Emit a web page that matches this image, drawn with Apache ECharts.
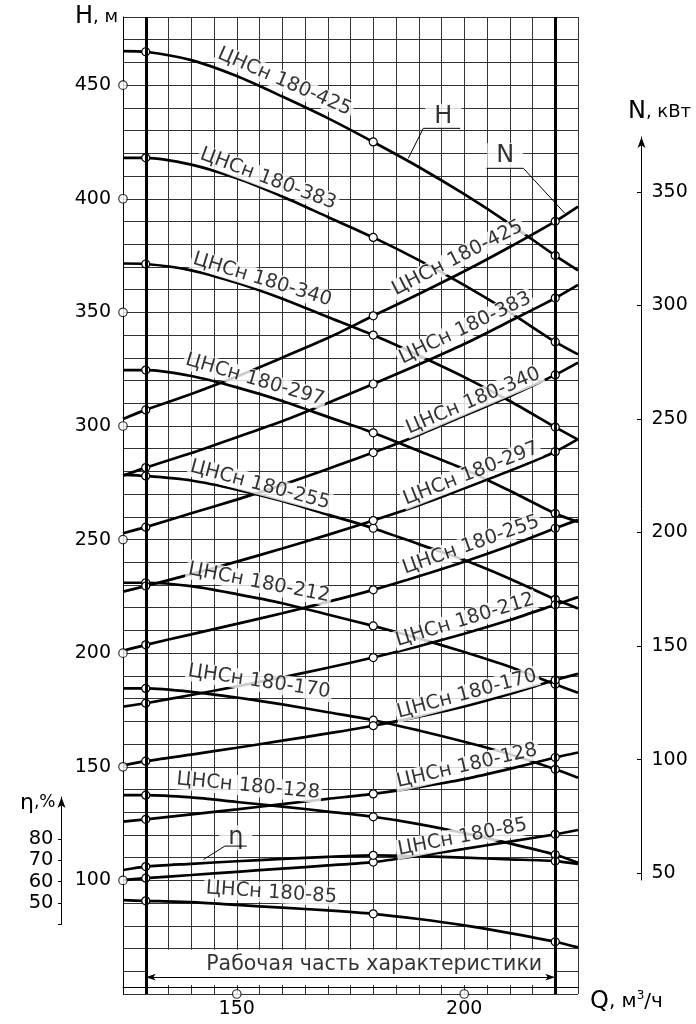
<!DOCTYPE html>
<html>
<head>
<meta charset="utf-8">
<script src="https://cdn.jsdelivr.net/npm/echarts@6/dist/echarts.min.js"></script>
<style>html,body{margin:0;padding:0;background:#fff}#c{width:696px;height:1024px}</style>
</head>
<body>
<div id="c"></div>
<script>
// ---------- data ----------
const Q = [125, 130, 140, 150, 160, 170, 180, 190, 200, 210, 220, 225];
const MARKED_Q = [130, 180, 220];
const WORK_RANGE = [130, 220];
const PUMPS = ['180-425', '180-383', '180-340', '180-297', '180-255', '180-212', '180-170', '180-128', '180-85'];

// Head H, m
const H_425 = [465, 464.7, 461, 454, 445, 435.5, 425, 414, 402, 389, 375, 368.5];
const H_383 = [418, 418, 415, 409, 401, 392, 383, 373, 362, 350, 337, 331.5];
const H_340 = [371.5, 371.3, 368.5, 363, 356, 348, 340, 331, 321.5, 311, 299.5, 294];
const H_297 = [324.6, 324.6, 322, 317, 311, 304, 297, 289, 281, 271.5, 261.5, 257.8];
const H_255 = [278.5, 278, 276, 272, 267, 261, 255, 248, 241, 232.8, 223.7, 219.7];
const H_212 = [231, 231, 229.5, 226, 222, 217, 212, 206.5, 200.5, 194, 186.3, 182.6];
const H_170 = [184.5, 184.5, 183, 180.5, 177.5, 174, 170.5, 166, 161, 155.5, 148.9, 145.2];
const H_128 = [137.5, 137.5, 136.5, 134.5, 132.5, 130.3, 128, 124.8, 120.8, 116.3, 111.3, 107.8];
const H_85  = [91.3, 91, 90.4, 89.2, 88, 86.8, 85.3, 83, 80.2, 76.8, 73, 70.5];

// Power N, kW
const N_425 = [250, 254, 261, 268.7, 277, 285.6, 295.4, 305, 315, 325.7, 337, 343.5];
const N_383 = [225, 228.6, 235, 242, 249, 257, 265.4, 274, 283, 293, 303.2, 309];
const N_340 = [199.7, 202.4, 208.5, 214.5, 221, 228, 235.2, 243, 251.5, 260, 269.4, 274.8];
const N_297 = [174, 176.5, 181.7, 187.2, 193, 199, 205.3, 212, 219.5, 227.2, 235.6, 241.1];
const N_255 = [148, 150.6, 155.2, 159.8, 164.5, 169.5, 174.8, 180.8, 187.2, 194.2, 201.9, 205.6];
const N_212 = [123.4, 124.9, 128.5, 132.3, 136.3, 140.5, 145, 150, 155.5, 161.5, 168.2, 171.6];
const N_170 = [97.5, 99.4, 102.3, 105.3, 108.4, 111.6, 115, 119, 123.5, 129, 135.1, 137.8];
const N_128 = [72.8, 73.8, 76, 78.2, 80.5, 82.8, 85, 88, 91.5, 96, 101, 103.2];
const N_85  = [47, 47.9, 49.3, 50.7, 52.1, 53.5, 55, 57.8, 60.8, 64, 67.2, 69.1];

// Efficiency, %
const ETA = [65.6, 67.2, 68.5, 69.7, 70.8, 71.8, 72.5, 72.1, 71.4, 70.6, 69.8, 68.5];

// tick labels
const Q_TICK_LABELS = [150, 200];
const H_TICK_LABELS = [100, 150, 200, 250, 300, 350, 400, 450];
const N_TICK_LABELS = [50, 100, 150, 200, 250, 300, 350];
const ETA_TICKS = [40, 50, 60, 70, 80];
const ETA_TICK_LABELS = [50, 60, 70, 80];

// label anchors (Q, value, rotation)
const H_LABEL_POS = [[160.5, 451.5, -23.5], [156.9, 408.7, -20.5], [155.6, 364.4, -17], [154, 320.3, -16.5],
  [155.1, 274, -15], [154.9, 231, -11], [154.9, 187.5, -8.5], [152.5, 141.5, -5.5], [157.6, 94.6, -4]];
const N_LABEL_POS = [[198.5, 320.8, 27], [200.2, 289.9, 25.5], [202, 257.9, 23], [201.5, 225.9, 21.5],
  [201.5, 194.5, 19.5], [200.2, 161.5, 17], [200.6, 128.9, 15], [200.6, 97.3, 13], [199.6, 65.9, 11]];

// callouts (in Q / H units)
const H_LEADER = [[187.7, 417.8], [191.0, 431.0], [199.1, 431.0]];
const N_LEADER = [[204.9, 413.4], [213.0, 413.4], [222.1, 393.6]];
const ETA_LEADER = [[142.7, 109.2], [147.4, 115.1], [152.2, 115.1]];
const CALLOUTS = [['H', 195.4, 436.3], ['N', 209.0, 419.0], ['η', 149.8, 118.8]];
const WORK_TEXT = ['Рабочая часть характеристики', 180.2, 62.7];
const WORK_BOX = [54, 69.5];
const WORK_ARROW_H = 57.4;

// axis ranges
const Q_MIN = 125, Q_MAX = 225;
const H_MIN = 50, H_MAX = 480;
const N_MAIN = [-3.08, 426.92];
const ETA_MAIN = [7.48, 465.45];
const N_AXIS = [47.05, 374.1];
const ETA_AXIS = [40, 99.67];

const H_SETS = [H_425, H_383, H_340, H_297, H_255, H_212, H_170, H_128, H_85];
const N_SETS = [N_425, N_383, N_340, N_297, N_255, N_212, N_170, N_128, N_85];

// ---------- chart ----------
const FONT = 'DejaVu Sans';
const GRID_COLOR = '#333';
const chart = echarts.init(document.getElementById('c'), null, {renderer: 'canvas', width: 696, height: 1024});

function curve(vals, yIdx) {
  return {
    type: 'line', xAxisIndex: 0, yAxisIndex: yIdx, z: 3, silent: true,
    smooth: 0.25,
    data: Q.map((q, i) => ({value: [q, vals[i]], symbol: MARKED_Q.includes(q) ? 'circle' : 'none'})),
    showSymbol: true, showAllSymbol: true, symbolSize: 8,
    lineStyle: {color: '#000', width: 2.7},
    itemStyle: {color: '#fff', borderColor: '#000', borderWidth: 1.2}
  };
}
function leader(pts) {
  return {type: 'line', xAxisIndex: 0, yAxisIndex: 0, z: 7, silent: true, showSymbol: false,
    data: pts, lineStyle: {color: '#000', width: 1}};
}
const labelBase = {show: true, position: 'inside', formatter: '{b}', color: '#000', fontFamily: FONT,
  fontSize: 19.5, backgroundColor: '#fff', padding: [0, 2], textBorderWidth: 0, textBorderColor: 'transparent'};

const series = [];
// white box behind the working range text + arrow line
series.push({
  type: 'line', xAxisIndex: 0, yAxisIndex: 0, z: 1, silent: true, data: [],
  markArea: {silent: true, itemStyle: {color: '#fff', opacity: 1},
    data: [[{coord: [WORK_RANGE[0], WORK_BOX[0]]}, {coord: [WORK_RANGE[1], WORK_BOX[1]]}]]},
  markLine: {silent: true, symbol: ['arrow', 'arrow'], symbolSize: [5, 10], label: {show: false},
    lineStyle: {color: '#000', width: 1, type: 'solid'},
    data: [[{coord: [WORK_RANGE[0], WORK_ARROW_H]}, {coord: [WORK_RANGE[1], WORK_ARROW_H]}]]}
});
// thick vertical boundary lines
series.push({
  type: 'line', xAxisIndex: 0, yAxisIndex: 0, z: 2, silent: true, data: [],
  markLine: {silent: true, symbol: ['none', 'none'], label: {show: false},
    lineStyle: {color: '#000', width: 3, type: 'solid'},
    data: WORK_RANGE.map(q => ({xAxis: q}))}
});
H_SETS.forEach(v => series.push(curve(v, 0)));
N_SETS.forEach(v => series.push(curve(v, 1)));
series.push(curve(ETA, 2));
// curve labels
series.push({
  type: 'scatter', xAxisIndex: 0, yAxisIndex: 0, z: 6, silent: true, symbolSize: 0,
  data: H_LABEL_POS.map((p, i) => ({name: 'ЦНСн ' + PUMPS[i], value: [p[0], p[1]], label: {rotate: p[2]}})),
  label: labelBase
});
series.push({
  type: 'scatter', xAxisIndex: 0, yAxisIndex: 1, z: 6, silent: true, symbolSize: 0,
  data: N_LABEL_POS.map((p, i) => ({name: 'ЦНСн ' + PUMPS[i], value: [p[0], p[1]], label: {rotate: p[2]}})),
  label: labelBase
});
// callout letters
series.push({
  type: 'scatter', xAxisIndex: 0, yAxisIndex: 0, z: 6, silent: true, symbolSize: 0,
  data: CALLOUTS.map(c => ({name: c[0], value: [c[1], c[2]]})),
  label: {show: true, position: 'inside', formatter: '{b}', color: '#000', fontFamily: FONT, fontSize: 24,
    backgroundColor: '#fff', padding: [1, 9, 0, 9], textBorderWidth: 0, textBorderColor: 'transparent'}
});
// working range text
series.push({
  type: 'scatter', xAxisIndex: 0, yAxisIndex: 0, z: 6, silent: true, symbolSize: 0,
  data: [{name: WORK_TEXT[0], value: [WORK_TEXT[1], WORK_TEXT[2]]}],
  label: {show: true, position: 'inside', formatter: '{b}', color: '#000', fontFamily: FONT, fontSize: 20.5,
    textBorderWidth: 0, textBorderColor: 'transparent'}
});
series.push(leader(H_LEADER));
series.push(leader(N_LEADER));
series.push(leader(ETA_LEADER));
// circles marking the tick positions on the H and Q axes
series.push({
  type: 'scatter', xAxisIndex: 0, yAxisIndex: 0, z: 8, silent: true, clip: false, symbolSize: 8.5,
  data: H_TICK_LABELS.map(h => [Q_MIN, h]).concat(Q_TICK_LABELS.map(q => [q, H_MIN])),
  itemStyle: {color: '#fff', borderColor: '#000', borderWidth: 1.2}
});

const richNames = {
  b: {fontSize: 24, color: '#000', fontFamily: FONT},
  s: {fontSize: 18, color: '#000', fontFamily: FONT},
  q: {fontSize: 20, color: '#000', fontFamily: FONT},
  u: {fontSize: 12, color: '#000', fontFamily: FONT, verticalAlign: 'top', padding: [0, 0, 11, 0]}
};

const option = {
  animation: false,
  backgroundColor: '#fff',
  textStyle: {fontFamily: FONT},
  grid: [
    {left: 123, top: 17, width: 455, height: 977},
    {left: 641.5, top: 137, width: 1, height: 743},
    {left: 61.5, top: 797, width: 1, height: 127.3}
  ],
  xAxis: [
    {type: 'value', gridIndex: 0, min: Q_MIN, max: Q_MAX, interval: 5,
      axisLine: {show: true, lineStyle: {color: '#000', width: 1}}, axisTick: {show: false},
      axisLabel: {margin: 6, fontSize: 19, color: '#000', fontFamily: FONT,
        formatter: v => Q_TICK_LABELS.includes(v) ? String(v) : ''},
      splitLine: {show: true, lineStyle: {color: GRID_COLOR, width: 1}},
      name: '{b|Q}{q|, м}{u|3}{q|/ч}', nameLocation: 'end', nameGap: 12,
      nameTextStyle: {align: 'left', verticalAlign: 'top', padding: [3, 0, 0, 0], rich: richNames}},
    {type: 'value', gridIndex: 1, show: false},
    {type: 'value', gridIndex: 2, show: false}
  ],
  yAxis: [
    {type: 'value', gridIndex: 0, min: H_MIN, max: H_MAX, interval: 10, position: 'left',
      axisLine: {show: true, lineStyle: {color: '#000', width: 1}}, axisTick: {show: false},
      axisLabel: {margin: 12, fontSize: 19, color: '#000', fontFamily: FONT,
        formatter: v => H_TICK_LABELS.includes(v) ? String(v) : ''},
      splitLine: {show: true, lineStyle: {color: GRID_COLOR, width: 1}},
      name: '{b|H}{s|, м}', nameLocation: 'end', nameGap: 0,
      nameTextStyle: {align: 'right', verticalAlign: 'middle', padding: [0, 5, 0, 0], rich: richNames}},
    {type: 'value', gridIndex: 0, min: N_MAIN[0], max: N_MAIN[1], show: false},
    {type: 'value', gridIndex: 0, min: ETA_MAIN[0], max: ETA_MAIN[1], show: false},
    {type: 'value', gridIndex: 1, min: N_AXIS[0], max: N_AXIS[1], position: 'left',
      axisLine: {show: true, symbol: ['none', 'arrow'], symbolSize: [6, 11], lineStyle: {color: '#000', width: 1}},
      axisTick: {show: true, inside: false, length: 4.5, customValues: N_TICK_LABELS, lineStyle: {color: '#000'}},
      axisLabel: {inside: true, margin: 10, fontSize: 19, color: '#000', fontFamily: FONT, customValues: N_TICK_LABELS},
      splitLine: {show: false},
      name: '{b|N}{s|, кВт}', nameLocation: 'end', nameGap: 25,
      nameTextStyle: {align: 'center', verticalAlign: 'middle', padding: [0, 0, 0, 36], rich: richNames}},
    {type: 'value', gridIndex: 2, min: ETA_AXIS[0], max: ETA_AXIS[1], position: 'left',
      axisLine: {show: true, symbol: ['none', 'arrow'], symbolSize: [6, 11], lineStyle: {color: '#000', width: 1}},
      axisTick: {show: true, inside: false, length: 3.5, customValues: ETA_TICKS, lineStyle: {color: '#000'}},
      axisLabel: {margin: 8, fontSize: 19.5, color: '#000', fontFamily: FONT, customValues: ETA_TICK_LABELS},
      splitLine: {show: false},
      name: '{b|η}{s|,%}', nameLocation: 'end', nameGap: -6,
      nameTextStyle: {align: 'right', verticalAlign: 'middle', padding: [0, 6, 0, 0],
        rich: {b: {fontSize: 22, color: '#000', fontFamily: FONT}, s: {fontSize: 17, color: '#000', fontFamily: FONT}}}}
  ],
  series: series
};
chart.setOption(option);
</script>
</body>
</html>
